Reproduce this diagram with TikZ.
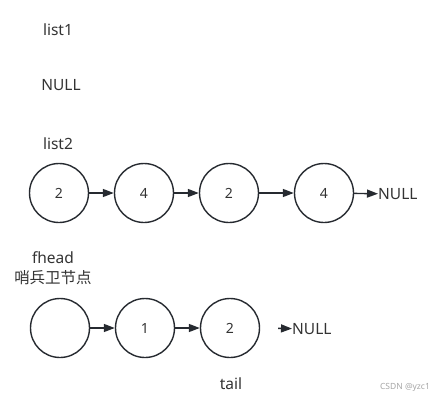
\documentclass[tikz,border=0pt]{standalone}
\usepackage{fontspec}
\setmainfont{Noto Sans}
\newfontfamily\cjk{Noto Sans CJK SC}
\usetikzlibrary{arrows.meta}
\definecolor{linegray}{HTML}{262A30}
\definecolor{txtgray}{HTML}{333333}
\begin{document}
\begin{tikzpicture}[
        x=1pt, y=-1pt,
        lnode/.style={circle, draw=linegray, line width=1.4pt, minimum size=59pt, inner sep=0pt, font=\fontsize{14}{16}\selectfont, text=txtgray},
        lbl/.style={font=\fontsize{15.5}{18}\selectfont, text=txtgray, inner sep=0pt},
        nxt/.style={draw=linegray, line width=1.4pt, -{Triangle[length=11pt,width=8pt]}}
    ]
    \useasboundingbox (0,0) rectangle (448,402);
    % list1 / list2
    \node[lbl] (l1name) at (58,30) {list1};
    \node[lbl] (l1null) at (61,85) {NULL};
    \node[lbl] (l2name) at (58,144) {list2};
    \node[lnode] (a1) at (59,193) {2};
    \node[lnode] (a2) at (144,193) {4};
    \node[lnode] (a3) at (229,193) {2};
    \node[lnode] (a4) at (324,193) {4};
    \node[lbl, anchor=west] (anull) at (378,194) {NULL};
    \draw[nxt] (a1) -- (a2);
    \draw[nxt] (a2) -- (a3);
    \draw[nxt] (a3) -- (a4);
    \draw[nxt] (a4) -- (anull);
    % merged list with sentinel
    \node[lbl] (fhead) at (53,258) {fhead};
    \node[lbl] (sent) at (53,278) {\cjk 哨兵卫节点};
    \node[lnode] (b0) at (60,328) {};
    \node[lnode] (b1) at (145,328) {1};
    \node[lnode] (b2) at (230,328) {2};
    \node[lbl, anchor=west] (bnull) at (292,329) {NULL};
    \draw[nxt] (b0) -- (b1);
    \draw[nxt] (b1) -- (b2);
    \draw[nxt, shorten <=18pt] (b2.east) -- (bnull);
    \node[lbl] (tail) at (231,384) {tail};
    \node[font=\fontsize{8.5}{10}\selectfont, text=gray!70, inner sep=0pt] (mark) at (405,387) {CSDN @yzc1};
\end{tikzpicture}
\end{document}
